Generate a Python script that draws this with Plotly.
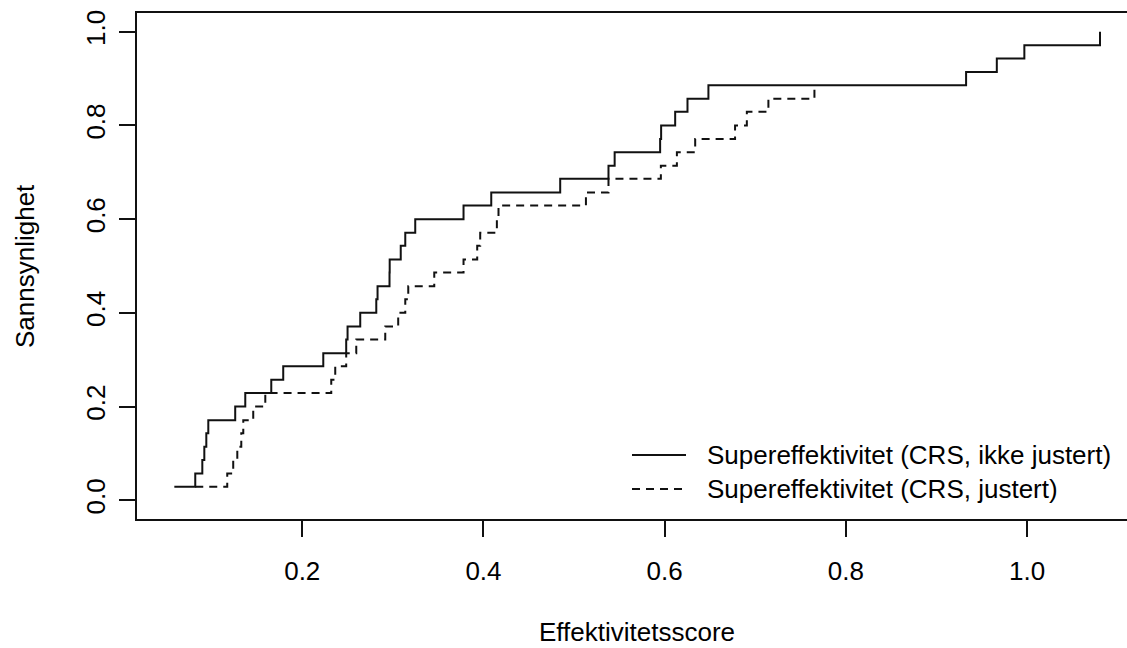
import plotly.graph_objects as go

# Efficiency scores (sorted) and cumulative probabilities, 35 units
score_ikke_justert = [
    0.0588, 0.0819, 0.0897, 0.0919, 0.0941, 0.0963, 0.1260, 0.1371, 0.1658,
    0.1790, 0.2232, 0.2485, 0.2500, 0.2640, 0.2817, 0.2831, 0.2963, 0.2965,
    0.3087, 0.3137, 0.3247, 0.3780, 0.4086, 0.4847, 0.5380, 0.5448, 0.5950,
    0.5961, 0.6116, 0.6252, 0.6483, 0.9327, 0.9666, 0.9970, 1.0805,
]
sannsynlighet_ikke_justert = [
    0.029, 0.057, 0.086, 0.114, 0.143, 0.171, 0.200, 0.229, 0.257, 0.286,
    0.314, 0.343, 0.371, 0.400, 0.429, 0.457, 0.486, 0.514, 0.543, 0.571,
    0.600, 0.629, 0.657, 0.686, 0.714, 0.743, 0.771, 0.800, 0.829, 0.857,
    0.886, 0.914, 0.943, 0.971, 1.000,
]

score_justert = [
    0.0819, 0.1172, 0.1238, 0.1283, 0.1327, 0.1349, 0.1459, 0.1592, 0.2320,
    0.2364, 0.2485, 0.2596, 0.2916, 0.3059, 0.3137, 0.3170, 0.3457, 0.3780,
    0.3931, 0.3964, 0.4148, 0.4166, 0.5131, 0.5380, 0.5958, 0.6135, 0.6337,
    0.6777, 0.6907, 0.7145, 0.7653,
]
sannsynlighet_justert = [
    0.029, 0.057, 0.086, 0.114, 0.143, 0.171, 0.200, 0.229, 0.257, 0.286,
    0.314, 0.343, 0.371, 0.400, 0.429, 0.457, 0.486, 0.514, 0.543, 0.571,
    0.600, 0.629, 0.657, 0.686, 0.714, 0.743, 0.771, 0.800, 0.829, 0.857,
    0.886,
]

serie_navn = [
    "Supereffektivitet (CRS, ikke justert)",
    "Supereffektivitet (CRS, justert)",
]

x_ticks = [0.2, 0.4, 0.6, 0.8, 1.0]
x_ticktext = ["0.2", "0.4", "0.6", "0.8", "1.0"]
y_ticks = [0.0, 0.2, 0.4, 0.6, 0.8, 1.0]
y_ticktext = ["0.0", "0.2", "0.4", "0.6", "0.8", "1.0"]

# ---- layout geometry (pixels) ----
W, H = 1127, 648
L, R, T, B = 137, 0, 13, 129
PW, PH = W - L - R, H - T - B
FONT = "Liberation Sans, Arial, sans-serif"
FS = 26
INK = "#111111"


def px_x(px):
    return (px - L) / PW


def px_y(py):
    return (H - B - py) / PH


fig = go.Figure()

fig.add_trace(go.Scatter(
    x=score_ikke_justert, y=sannsynlighet_ikke_justert,
    mode="lines", line=dict(shape="hv", color=INK, width=2),
    name=serie_navn[0], showlegend=False, hoverinfo="x+y",
))
fig.add_trace(go.Scatter(
    x=score_justert, y=sannsynlighet_justert,
    mode="lines", line=dict(shape="hv", color=INK, width=2, dash="8px,6px"),
    name=serie_navn[1], showlegend=False, hoverinfo="x+y",
))

axis_common = dict(
    showgrid=False, zeroline=False, showline=True, linecolor=INK, linewidth=2,
    ticks="outside", ticklen=16, tickwidth=2, tickcolor=INK,
    tickfont=dict(family=FONT, size=FS, color="#000000"),
)

fig.update_layout(
    width=W, height=H,
    margin=dict(l=L, r=R, t=T, b=B, pad=0),
    paper_bgcolor="white", plot_bgcolor="white",
    font=dict(family=FONT, size=FS, color="#000000"),
    xaxis=dict(
        range=[0.0176, 1.1103], tickvals=x_ticks, ticktext=x_ticktext,
        mirror=True, ticklabelstandoff=12, **axis_common,
    ),
    yaxis=dict(
        range=[-0.04, 1.04], tickvals=y_ticks, ticktext=y_ticktext,
        tickangle=-90, ticklabelstandoff=4, **axis_common,
    ),
)

# axis titles
fig.add_annotation(
    text="Effektivitetsscore", xref="paper", yref="paper",
    x=px_x(637), y=px_y(632), xanchor="center", yanchor="middle",
    showarrow=False, font=dict(family=FONT, size=FS),
)
fig.add_annotation(
    text="Sannsynlighet", xref="paper", yref="paper",
    x=px_x(25), y=0.5, xanchor="center", yanchor="middle", textangle=-90,
    showarrow=False, font=dict(family=FONT, size=FS),
)

# legend: line samples and labels
legend_rows = [(455, "solid"), (489, "8px,6px")]
for (ly, dash), label in zip(legend_rows, serie_navn):
    fig.add_shape(
        type="line", xref="paper", yref="paper",
        x0=px_x(632), x1=px_x(686), y0=px_y(ly), y1=px_y(ly),
        line=dict(color=INK, width=2, dash=dash),
    )
    fig.add_annotation(
        text=label, xref="paper", yref="paper",
        x=px_x(705), y=px_y(ly), xanchor="left", yanchor="middle",
        showarrow=False, font=dict(family=FONT, size=FS),
    )

fig.write_html("out.html")
